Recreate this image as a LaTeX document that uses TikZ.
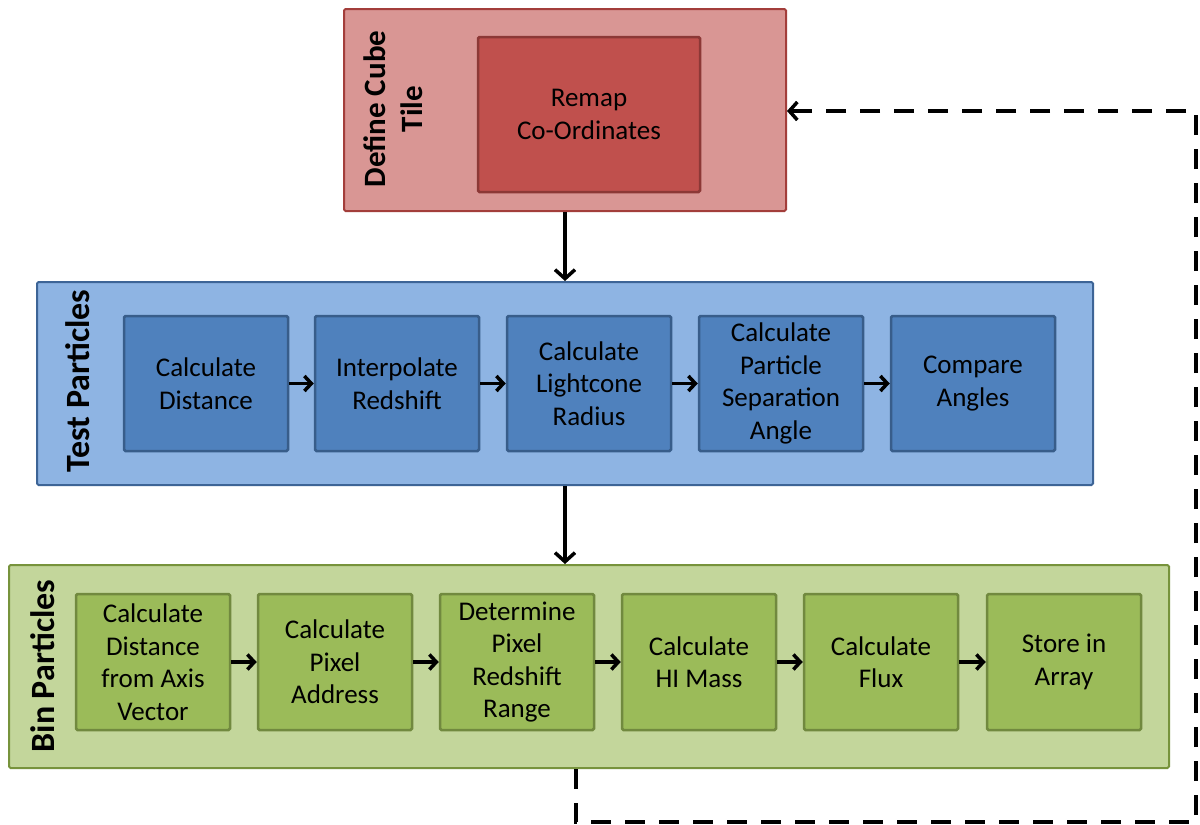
\documentclass[tikz,border=0pt]{standalone}
\usepackage{fontspec}
\setmainfont{Carlito}
\usetikzlibrary{arrows.meta}
\definecolor{redout}{HTML}{D99694}
\definecolor{redoutb}{HTML}{A33E3B}
\definecolor{redin}{HTML}{C0504D}
\definecolor{redinb}{HTML}{8C3836}
\definecolor{blueout}{HTML}{8EB4E3}
\definecolor{blueoutb}{HTML}{3D6496}
\definecolor{bluein}{HTML}{4F81BD}
\definecolor{blueinb}{HTML}{385D8A}
\definecolor{greenout}{HTML}{C3D69B}
\definecolor{greenoutb}{HTML}{77933C}
\definecolor{greenin}{HTML}{9BBB59}
\definecolor{greeninb}{HTML}{71893F}
\begin{document}
\begin{tikzpicture}[x=1pt,y=-1pt,
  outerbox/.style={rectangle, draw, line width=2pt, rounded corners=1.5pt, inner sep=0pt},
  innerbox/.style={rectangle, draw, line width=2.5pt, rounded corners=1.5pt, inner sep=0pt, align=center,
    font=\fontsize{27}{32.5}\selectfont, text=black},
  grouplabel/.style={rotate=90, align=center, font=\bfseries\fontsize{34}{37}\selectfont, text=black},
  redo/.style={outerbox, fill=redout, draw=redoutb, minimum width=442, minimum height=202},
  redi/.style={innerbox, fill=redin, draw=redinb, minimum width=222, minimum height=155},
  blueo/.style={outerbox, fill=blueout, draw=blueoutb, minimum width=1056, minimum height=203},
  bluei/.style={innerbox, fill=bluein, draw=blueinb, minimum width=164, minimum height=135},
  greeno/.style={outerbox, fill=greenout, draw=greenoutb, minimum width=1160, minimum height=203},
  greeni/.style={innerbox, fill=greenin, draw=greeninb, minimum width=154, minimum height=136},
  bigarrow/.style={line width=3.5pt, -{Straight Barb[length=9pt,width=20pt,line width=3.5pt]}},
  smallarrow/.style={line width=3.5pt, -{Straight Barb[length=7pt,width=15pt,line width=3.5pt]}},
  dashline/.style={line width=4pt, dash pattern=on 20pt off 14pt, -{Straight Barb[length=8pt,width=18pt,line width=3.5pt]}}
]
\useasboundingbox (0,0) rectangle (1200,825);
\fill[white] (0,0) rectangle (1200,825);

% Red group
\node[redo] (tile) at (565,110) {};
\node[redi] (remap) at (589,114.5) {Remap\\Co-Ordinates};
\node[grouplabel, font=\bfseries\fontsize{31}{37}\selectfont] (tilelbl) at (393,109) {Define Cube\\Tile};

% Blue group
\node[blueo] (test) at (565,383.5) {};
\node[grouplabel] (testlbl) at (78,381) {Test Particles};
\node[bluei] (t1) at (206,383.5) {Calculate\\Distance};
\node[bluei] (t2) at (397,383.5) {Interpolate\\Redshift};
\node[bluei] (t3) at (589,383.5) {Calculate\\Lightcone\\Radius};
\node[bluei] (t4) at (781,383.5) {Calculate\\Particle\\Separation\\Angle};
\node[bluei] (t5) at (973,383.5) {Compare\\Angles};

% Green group
\node[greeno] (bin) at (589,666.5) {};
\node[grouplabel] (binlbl) at (43,666) {Bin Particles};
\node[greeni] (g1) at (153,662) {Calculate\\Distance\\from Axis\\Vector};
\node[greeni] (g2) at (335,662) {Calculate\\Pixel\\Address};
\node[greeni] (g3) at (517,662) {Determine\\Pixel\\Redshift\\Range};
\node[greeni] (g4) at (699,662) {Calculate\\HI Mass};
\node[greeni] (g5) at (881,662) {Calculate\\Flux};
\node[greeni] (g6) at (1064,662) {Store in\\Array};

% Arrows
\draw[bigarrow] (tile.south) -- (test.north -| tile.south);
\draw[bigarrow] (test.south) -- (bin.north -| test.south);
\foreach \a/\b in {t1/t2,t2/t3,t3/t4,t4/t5,g1/g2,g2/g3,g3/g4,g4/g5,g5/g6}
  \draw[smallarrow] (\a.east) -- (\b.west);

% Feedback dashed loop
\coordinate (d0) at (576,768);
\coordinate (d1) at (576,822);
\coordinate (d2) at (1196,822);
\coordinate (d3) at (1196,111);
\draw[dashline] (bin.south -| d0) -- (d1) -- (d2) -- (d3) -- (d3 -| tile.east);
\end{tikzpicture}
\end{document}
